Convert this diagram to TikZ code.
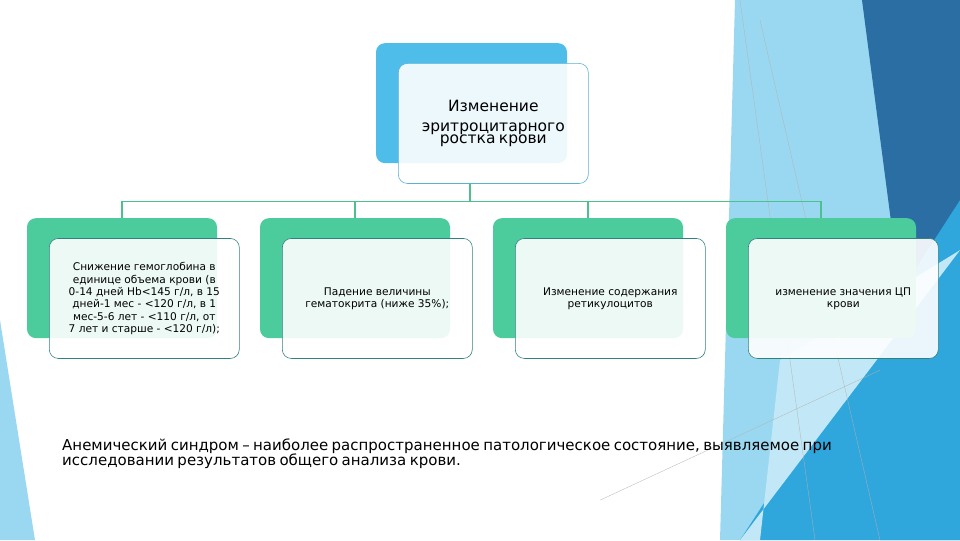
\documentclass[tikz,border=0pt]{standalone}
\usepackage{fontspec}
\setmainfont{DejaVu Sans}
\begin{document}
\begin{tikzpicture}[x=1pt,y=-1pt,
  front/.style={fill=white, fill opacity=0.9, text opacity=1, draw=teal!60!gray, line width=0.6pt, rounded corners=9pt, text width=180pt, align=center, minimum width=190pt, minimum height=120pt, inner sep=3pt, anchor=north west},
  conn/.style={draw=teal!70!green!70!white, line width=1.2pt}]
\definecolor{lb}{HTML}{9AD8F2}
\definecolor{mb}{HTML}{2FA6DC}
\definecolor{db}{HTML}{2B6EA3}
\definecolor{gr}{HTML}{4CCB9C}
\definecolor{bl}{HTML}{4FBDE9}
\fill[white] (0,0) rectangle (960,540);
% background
\fill[lb] (735,0) -- (870,0) -- (960,420) -- (960,540) -- (720,540) -- cycle;
\fill[db] (862,0) -- (960,0) -- (960,330) -- (900,290) -- cycle;
\fill[mb!80!db] (900,290) -- (960,330) -- (960,540) -- (880,540) -- cycle;
\fill[mb] (960,200) -- (960,540) -- (740,540) -- cycle;
\fill[lb!60!white] (780,360) -- (960,250) -- (740,540) -- (760,540) -- cycle;
\fill[lb] (0,320) -- (35,540) -- (0,540) -- cycle;
\draw[gray!60, line width=0.3pt] (740,0) -- (815,540);
\draw[gray!60, line width=0.3pt] (760,20) -- (880,540);
\draw[gray!60, line width=0.3pt] (600,500) -- (880,370);
% top node
\fill[bl, rounded corners=9pt] (376,43) rectangle (567,163);
\node[front, draw=bl!80!gray] (top) at (398,63) {\fontsize{15.5}{19.5}\selectfont Изменение\\эритроцитарного\\ростка крови};
% connectors
\coordinate (hl) at (122,201);
\coordinate (hr) at (821,201);
\draw[conn] (top.south -| 470,0) -- (470,201);
\draw[conn] (hl) -- (hr);
\foreach \x in {27,260,493,726}{
  \fill[gr, rounded corners=9pt] (\x,218) rectangle (\x+190,338);
}
\draw[conn] (hl) -- (122,218);
\draw[conn] (355,201) -- (355,218);
\draw[conn] (588,201) -- (588,218);
\draw[conn] (hr) -- (821,218);
\node[front] (a) at (49,238) {\fontsize{10.6}{12.4}\selectfont Снижение гемоглобина в\\единице объема крови (в\\0-14 дней Hb<145 г/л, в 15\\дней-1 мес - <120 г/л, в 1\\мес-5-6 лет - <110 г/л, от\\7 лет и старше - <120 г/л);};
\node[front] (b) at (282,238) {\fontsize{10.6}{12.4}\selectfont Падение величины\\гематокрита (ниже 35\%);};
\node[front] (c) at (515,238) {\fontsize{10.6}{12.4}\selectfont Изменение содержания\\ретикулоцитов};
\node[front] (d) at (748,238) {\fontsize{10.6}{12.4}\selectfont изменение значения ЦП\\крови};
\node[anchor=north west, align=left, inner sep=0pt, text width=880pt] (t) at (62,438) {\fontsize{15}{22}\selectfont Анемический синдром – наиболее распространенное патологическое состояние, выявляемое при\\исследовании результатов общего анализа крови.};
\end{tikzpicture}
\end{document}
